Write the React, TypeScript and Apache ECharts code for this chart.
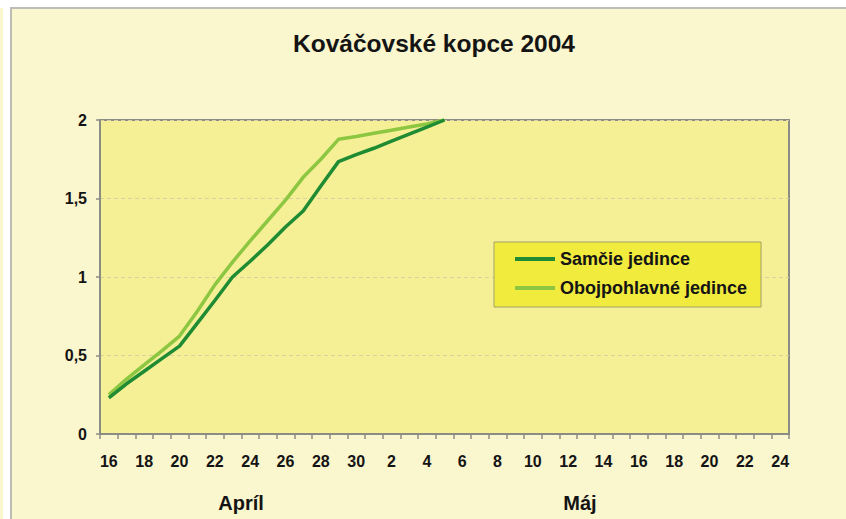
import React, { useEffect, useRef } from "react";
import * as echarts from "echarts";

const categories: string[] = [
  "16.4.", "17.4.", "18.4.", "19.4.", "20.4.", "21.4.", "22.4.", "23.4.", "24.4.", "25.4.",
  "26.4.", "27.4.", "28.4.", "29.4.", "30.4.",
  "1.5.", "2.5.", "3.5.", "4.5.", "5.5.", "6.5.", "7.5.", "8.5.", "9.5.", "10.5.",
  "11.5.", "12.5.", "13.5.", "14.5.", "15.5.", "16.5.", "17.5.", "18.5.", "19.5.", "20.5.",
  "21.5.", "22.5.", "23.5.", "24.5.",
];

const samcie: number[] = [
  0.23, 0.32, 0.4, 0.48, 0.56, 0.705, 0.85, 1.0, 1.1, 1.205,
  1.318, 1.42, 1.58, 1.735, 1.78, 1.82, 1.865, 1.91, 1.955, 2.0,
];

const obojpohlavne: number[] = [
  0.25, 0.35, 0.44, 0.53, 0.624, 0.78, 0.95, 1.095, 1.23, 1.36,
  1.49, 1.635, 1.75, 1.877, 1.895, 1.915, 1.935, 1.955, 1.975, 2.0,
];

const yTicks: number[] = [0, 0.5, 1, 1.5, 2];
const monthLabels: string[] = ["Apríl", "Máj"];
const seriesNames: string[] = ["Samčie jedince", "Obojpohlavné jedince"];
const titleText = "Kováčovské kopce 2004";

const FONT = "'Liberation Sans', Arial, Helvetica, sans-serif";
const TEXT = "#141414";

export default function App() {
  const ref = useRef<HTMLDivElement>(null);

  useEffect(() => {
    document.body.style.margin = "0";
    if (!ref.current) return;
    const chart = echarts.init(ref.current, undefined, { renderer: "svg" });
    chart.setOption({
      animation: false,
      backgroundColor: "transparent",
      textStyle: { fontFamily: FONT },
      grid: {
        left: 100,
        right: 57,
        top: 120,
        bottom: 85,
        show: true,
        backgroundColor: "#F5F096",
        borderColor: "#8c8c86",
        borderWidth: 2,
      },
      legend: {
        data: seriesNames,
        orient: "vertical",
        left: 494,
        top: 242,
        padding: [7, 14, 9, 21],
        itemGap: 9,
        itemWidth: 40,
        itemHeight: 4,
        icon: "rect",
        backgroundColor: "#F1EB3E",
        borderColor: "#a3a06a",
        borderWidth: 1,
        textStyle: {
          fontFamily: FONT,
          fontSize: 18,
          fontWeight: "bold",
          color: TEXT,
          lineHeight: 20,
        },
      },
      xAxis: {
        type: "category",
        data: categories,
        boundaryGap: true,
        axisLine: { show: true, lineStyle: { color: "#8c8c86", width: 2 } },
        axisTick: {
          show: true,
          interval: 0,
          length: 5,
          lineStyle: { color: "#8c8c86", width: 1.5 },
        },
        axisLabel: {
          interval: 1,
          margin: 19,
          fontFamily: FONT,
          fontSize: 16,
          fontWeight: "bold",
          color: TEXT,
          formatter: (v: string) => v.split(".")[0],
        },
        splitLine: { show: false },
      },
      yAxis: {
        type: "value",
        min: yTicks[0],
        max: yTicks[yTicks.length - 1],
        interval: 0.5,
        axisLine: { show: true, lineStyle: { color: "#8c8c86", width: 2 } },
        axisTick: { show: true, length: 4, lineStyle: { color: "#8c8c86", width: 1.5 } },
        axisLabel: {
          margin: 13,
          fontFamily: FONT,
          fontSize: 16,
          fontWeight: "bold",
          color: TEXT,
          formatter: (v: number) => String(v).replace(".", ","),
        },
        splitLine: {
          show: true,
          lineStyle: { color: "#d8d2a2", width: 1, type: [4, 3] },
        },
      },
      series: [
        {
          name: seriesNames[0],
          type: "line",
          data: samcie,
          symbol: "none",
          color: "#1F8B32",
          lineStyle: { width: 3.5, color: "#1F8B32" },
          z: 3,
        },
        {
          name: seriesNames[1],
          type: "line",
          data: obojpohlavne,
          symbol: "none",
          color: "#8DC641",
          lineStyle: { width: 3.5, color: "#8DC641" },
          z: 2,
        },
      ],
      graphic: [
        {
          type: "text",
          style: {
            text: titleText,
            x: 434,
            y: 43,
            textAlign: "center",
            textVerticalAlign: "middle",
            font: `bold 24.5px ${FONT}`,
            fill: TEXT,
          },
        },
        {
          type: "text",
          style: {
            text: monthLabels[0],
            x: 241,
            y: 503,
            textAlign: "center",
            textVerticalAlign: "middle",
            font: `bold 20px ${FONT}`,
            fill: TEXT,
          },
        },
        {
          type: "text",
          style: {
            text: monthLabels[1],
            x: 580,
            y: 503,
            textAlign: "center",
            textVerticalAlign: "middle",
            font: `bold 20px ${FONT}`,
            fill: TEXT,
          },
        },
      ],
    });
    return () => chart.dispose();
  }, []);

  return (
    <div style={{ position: "relative", width: 846, height: 519, background: "#ffffff", overflow: "hidden" }}>
      <div style={{ position: "absolute", left: 0, top: 8, width: 3, height: 511, background: "#FAF6CE" }} />
      <div
        style={{
          position: "absolute",
          left: 10,
          top: 7,
          right: 0,
          bottom: 0,
          background: "#FAF6CE",
          borderLeft: "2px solid #bdbdb8",
          borderTop: "2px solid #bdbdb8",
        }}
      />
      <div ref={ref} style={{ position: "absolute", left: 0, top: 0, width: 846, height: 519 }} />
    </div>
  );
}
